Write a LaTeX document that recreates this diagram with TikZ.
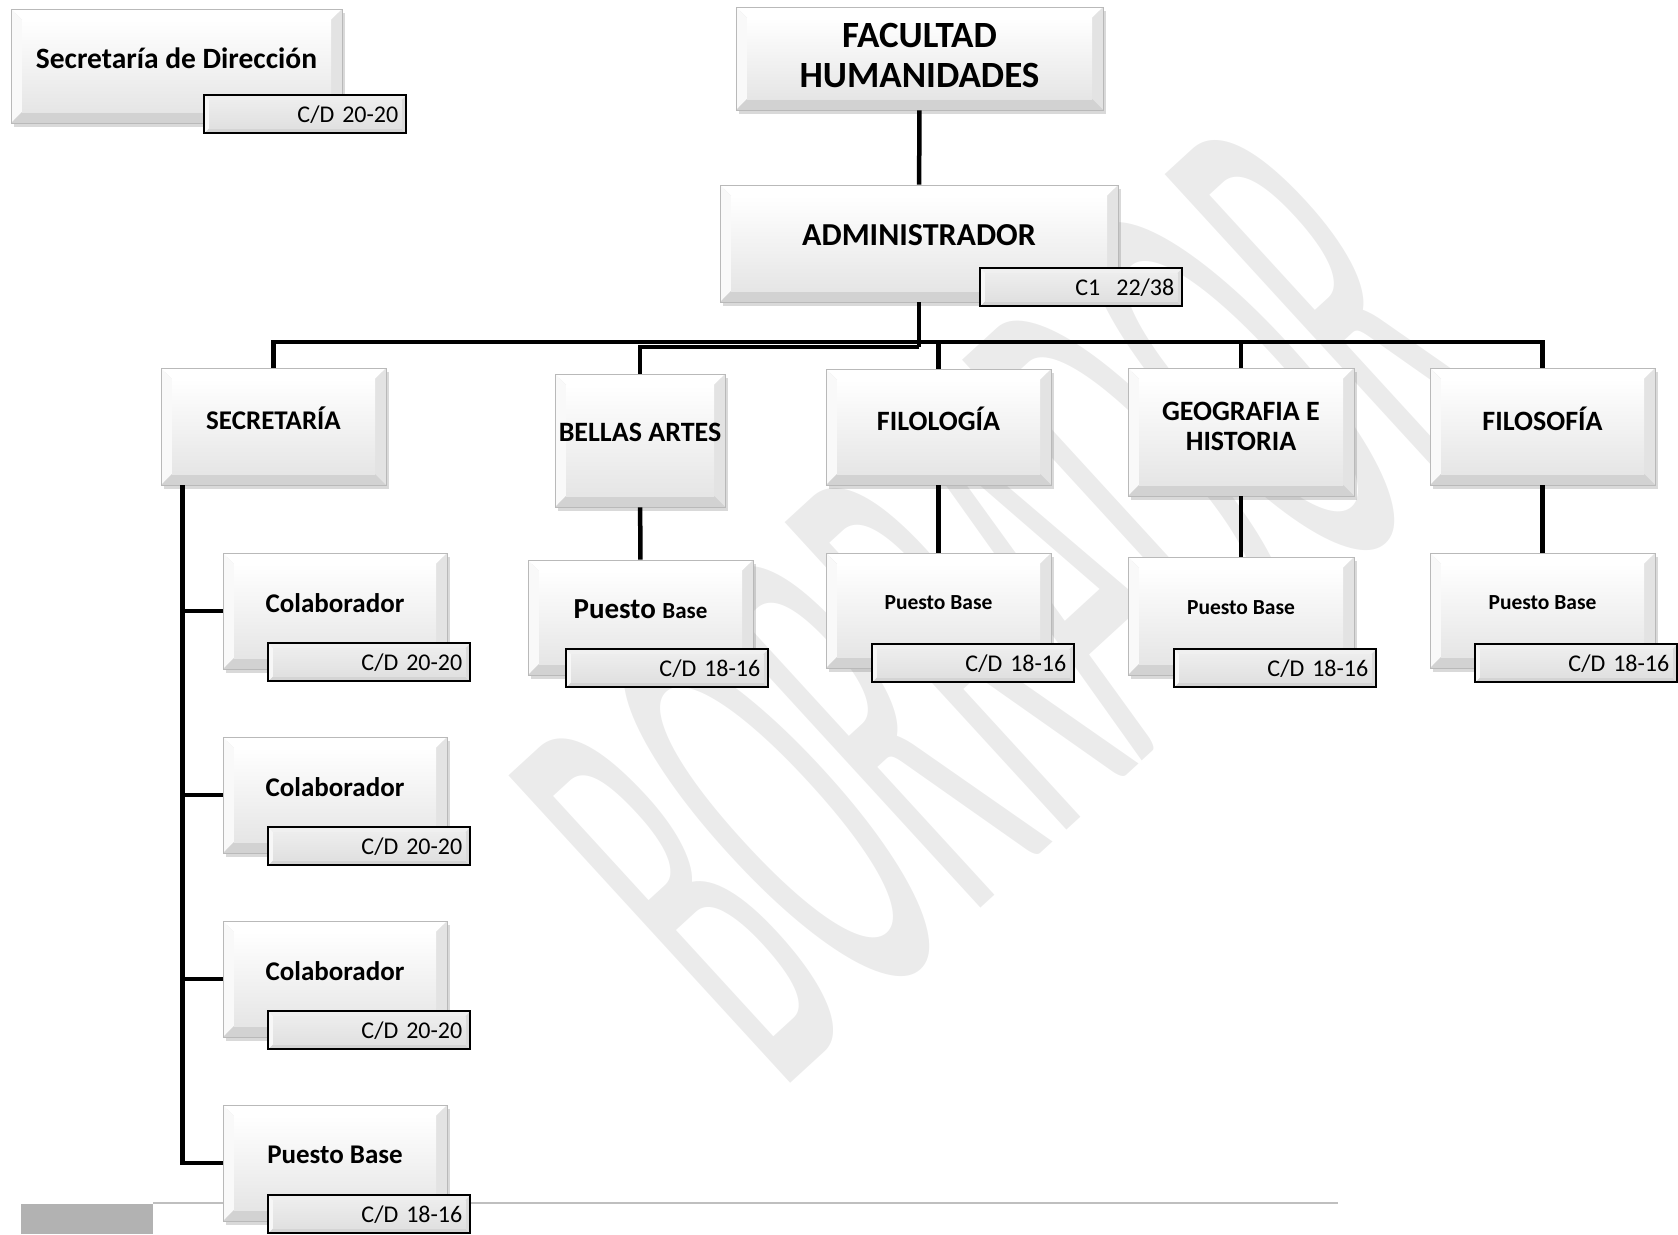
\documentclass[tikz,border=0pt]{standalone}
\usepackage{fontspec}
\setmainfont{Carlito}
\usetikzlibrary{shadows,calc}

% bevel look: inset, top, left, right, bottom, inner top, inner bottom
\newcommand{\bevelpaint}[7]{%
  \path (path picture bounding box.north west) coordinate (pp1)
        (path picture bounding box.north east) coordinate (pp2)
        (path picture bounding box.south east) coordinate (pp3)
        (path picture bounding box.south west) coordinate (pp4);
  \path ($(pp1)+(#1,-#1)$) coordinate (qq1)
        ($(pp2)+(-#1,-#1)$) coordinate (qq2)
        ($(pp3)+(-#1,#1)$) coordinate (qq3)
        ($(pp4)+(#1,#1)$) coordinate (qq4);
  \fill[#2] (pp1) -- (pp2) -- (qq2) -- (qq1) -- cycle;
  \fill[#3] (pp1) -- (qq1) -- (qq4) -- (pp4) -- cycle;
  \fill[#4] (pp2) -- (pp3) -- (qq3) -- (qq2) -- cycle;
  \fill[#5] (pp4) -- (qq4) -- (qq3) -- (pp3) -- cycle;
  \shade[top color=#6, bottom color=#7] (qq1) rectangle (qq3);
}

\begin{document}
\begin{tikzpicture}[x=1pt, y=-1pt,
    box/.style={rectangle, draw=gray!55, line width=0.8pt, inner sep=2pt,
      text depth=16pt, align=center,
      drop shadow={shadow xshift=3pt, shadow yshift=-4pt, opacity=0.3},
      path picture={\bevelpaint{11pt}{white}{gray!5}{gray!22}{gray!35}{white}{gray!20}}},
    tag/.style={rectangle, draw=black, line width=2.2pt, minimum width=202pt,
      minimum height=38pt, text width=186pt, align=right, inner sep=3pt,
      font=\fontsize{24}{28}\selectfont,
      path picture={\bevelpaint{5pt}{gray!12}{gray!6}{gray!28}{gray!34}{gray!14}{gray!24}}},
    link/.style={line width=4.5pt}]
  \useasboundingbox (0,0) rectangle (1678,1234);

  % marca de agua
  \node[text=gray!16, rotate=42.5, xscale=0.33,
    font=\fontsize{650}{650}\selectfont] (wm) at (1009,600) {BORRADOR};

  % pie de pagina
  \fill[gray!60] (21,1204) rectangle (153,1234);
  \draw[gray!50, line width=1.5pt] (153,1203) -- (1338,1203);

  % cabecera
  \node[box, minimum width=331pt, minimum height=114pt,
    font=\fontsize{29.5}{35}\selectfont\bfseries] (secdir) at (176.5,66) {Secretaría de Dirección};
  \node[tag, anchor=south east] (secdir-t) at ([shift={(65pt,-11pt)}]secdir.south east) {C/D 20-20};

  \node[box, minimum width=367pt, minimum height=103pt, text depth=6pt,
    font=\fontsize{37}{40}\selectfont\bfseries] (fac) at (919.5,58.5) {FACULTAD\\HUMANIDADES};

  \node[box, minimum width=398pt, minimum height=117pt,
    font=\fontsize{32}{38}\selectfont\bfseries] (adm) at (919,243.5) {ADMINISTRADOR};
  \node[tag, anchor=south east] (adm-t) at ([shift={(65pt,-5pt)}]adm.south east) {C1~\ 22/38};

  % departamentos
  \node[box, minimum width=225pt, minimum height=117pt,
    font=\fontsize{27}{32}\selectfont\bfseries] (sec) at (273.5,426.5) {SECRETARÍA};
  \node[box, minimum width=170pt, minimum height=133pt,
    font=\fontsize{28}{33}\selectfont\bfseries] (bellas) at (640,440.5) {BELLAS ARTES};
  \node[box, minimum width=225pt, minimum height=116pt,
    font=\fontsize{28}{33}\selectfont\bfseries] (filol) at (938.5,427) {FILOLOGÍA};
  \node[box, minimum width=226pt, minimum height=128pt, text depth=12pt,
    font=\fontsize{28}{30}\selectfont\bfseries] (geo) at (1241,432) {GEOGRAFIA E\\HISTORIA};
  \node[box, minimum width=225pt, minimum height=117pt,
    font=\fontsize{28}{33}\selectfont\bfseries] (filos) at (1542.5,426.5) {FILOSOFÍA};

  % secretaria
  \node[box, minimum width=224pt, minimum height=116pt,
    font=\fontsize{27}{32}\selectfont\bfseries] (col1) at (335,611) {Colaborador};
  \node[tag, anchor=south east] (col1-t) at ([shift={(24pt,-13pt)}]col1.south east) {C/D 20-20};
  \node[box, minimum width=224pt, minimum height=116pt,
    font=\fontsize{27}{32}\selectfont\bfseries] (col2) at (335,795) {Colaborador};
  \node[tag, anchor=south east] (col2-t) at ([shift={(24pt,-13pt)}]col2.south east) {C/D 20-20};
  \node[box, minimum width=224pt, minimum height=116pt,
    font=\fontsize{27}{32}\selectfont\bfseries] (col3) at (335,979) {Colaborador};
  \node[tag, anchor=south east] (col3-t) at ([shift={(24pt,-13pt)}]col3.south east) {C/D 20-20};
  \node[box, minimum width=224pt, minimum height=116pt,
    font=\fontsize{27}{32}\selectfont\bfseries] (secpb) at (335,1163) {Puesto Base};
  \node[tag, anchor=south east] (secpb-t) at ([shift={(24pt,-13pt)}]secpb.south east) {C/D 18-16};

  % puestos base
  \node[box, minimum width=225pt, minimum height=115pt, font=\bfseries] (bellaspb) at (640.5,617.5)
    {\fontsize{29}{34}\selectfont Puesto \fontsize{23}{27}\selectfont Base};
  \node[tag, anchor=south east] (bellaspb-t) at ([shift={(16pt,-13pt)}]bellaspb.south east) {C/D 18-16};
  \node[box, minimum width=225pt, minimum height=115pt,
    font=\fontsize{21.5}{26}\selectfont\bfseries] (filolpb) at (938.5,610.5) {Puesto Base};
  \node[tag, anchor=south east] (filolpb-t) at ([shift={(24pt,-15pt)}]filolpb.south east) {C/D 18-16};
  \node[box, minimum width=226pt, minimum height=118pt,
    font=\fontsize{21.5}{26}\selectfont\bfseries] (geopb) at (1241,616) {Puesto Base};
  \node[tag, anchor=south east] (geopb-t) at ([shift={(23pt,-13pt)}]geopb.south east) {C/D 18-16};
  \node[box, minimum width=225pt, minimum height=115pt,
    font=\fontsize{21.5}{26}\selectfont\bfseries] (filospb) at (1542.5,610.5) {Puesto Base};
  \node[tag, anchor=south east] (filospb-t) at ([shift={(23pt,-15pt)}]filospb.south east) {C/D 18-16};

  % conexiones
  \coordinate (bus) at (919,342);
  \coordinate (bus2) at (919,347);
  \coordinate (stem) at ([xshift=22pt]sec.south west);
  \draw[link] (fac) -- (adm);
  \draw[link] (adm.south) -- (bus2);
  \draw[link] (bus2) -| (bellas.north);
  \draw[link] (sec.north) |- (bus) -| (filos.north);
  \foreach \d in {filol,geo}
    \draw[link] (bus -| \d.north) -- (\d.north);
  \draw[link] (bellas) -- (bellaspb);
  \draw[link] (filol) -- (filolpb);
  \draw[link] (geo) -- (geopb);
  \draw[link] (filos) -- (filospb);
  \draw[link] (stem) |- (secpb.west);
  \foreach \c in {col1,col2,col3}
    \draw[link] (stem |- \c.west) -- (\c.west);
\end{tikzpicture}
\end{document}
